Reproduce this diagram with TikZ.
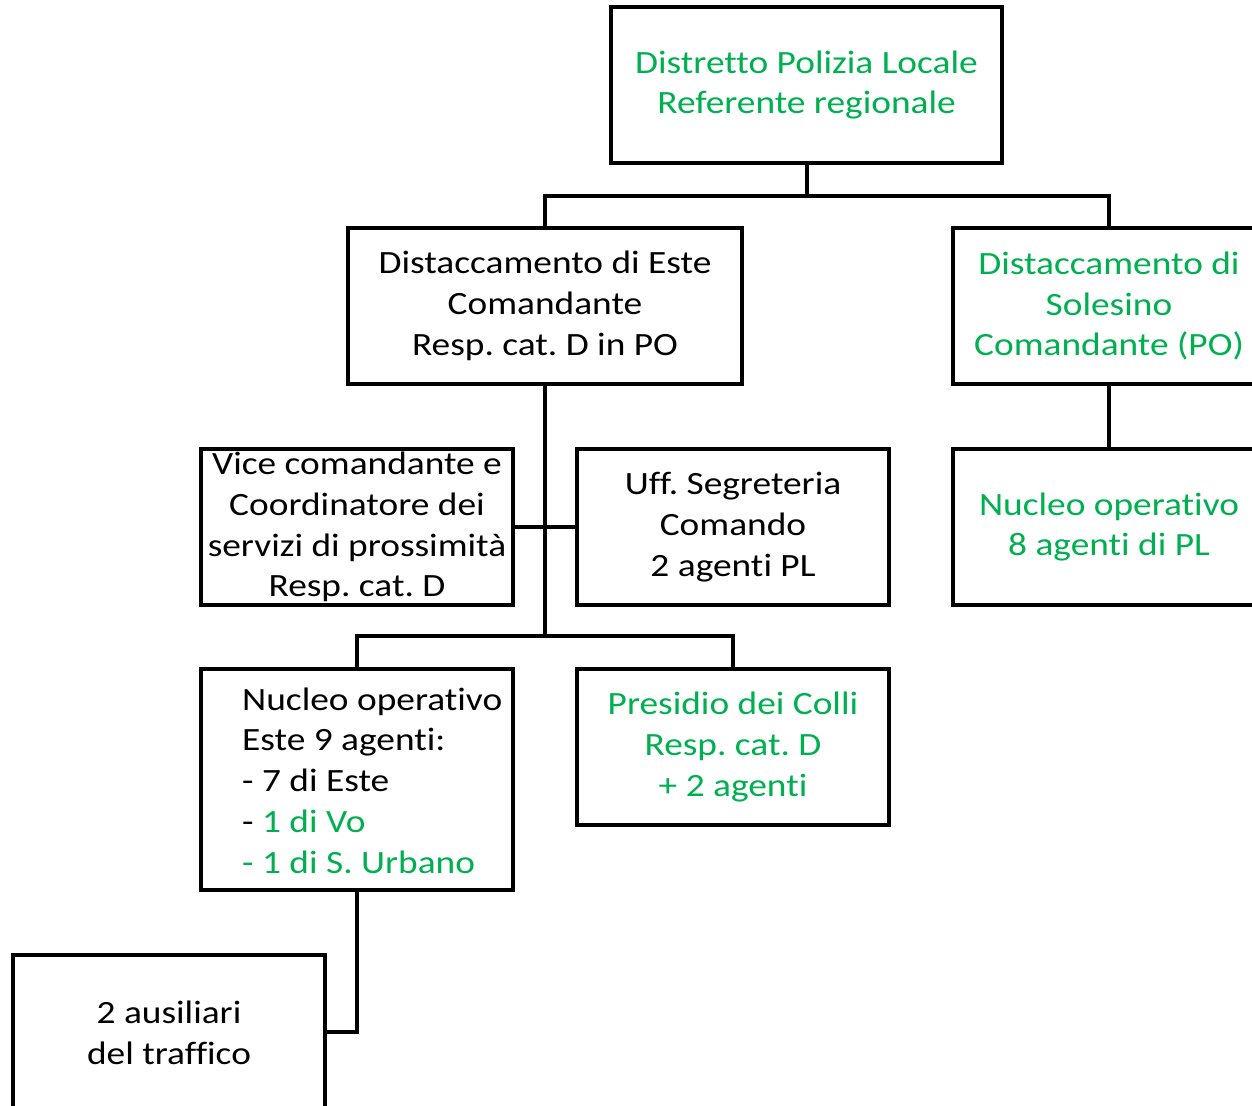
\documentclass[tikz,border=0pt]{standalone}
\usepackage{fontspec}
\setmainfont{Carlito}[FakeStretch=1.15,Ligatures=CommonOff]
\definecolor{grn}{HTML}{00B050}
\frenchspacing
\begin{document}
\begin{tikzpicture}[x=1pt,y=-1pt,
  box/.style={draw=black,line width=4pt,minimum width=312pt,minimum height=156pt,inner sep=0pt,align=center,font=\fontsize{32.5}{40.8}\selectfont},
  conn/.style={draw=black,line width=4pt}]
\useasboundingbox (0,0) rectangle (1252,1105);
\clip (0,0) rectangle (1252,1105);
\node[box,minimum width=391pt,text=grn] (top) at (806.5,85) {Distretto Polizia Locale\\Referente regionale};
\node[box,minimum width=394pt] (este) at (545,306) {Distaccamento di Este\\Comandante\\Resp. cat. D in PO};
\node[box,text=grn] (sol) at (1109,306) {Distaccamento di\\Solesino\\Comandante (PO)};
\node[box] (vice) at (357,527) {Vice comandante e\\Coordinatore dei\\servizi di prossimità\\Resp. cat. D};
\node[box] (uff) at (733,527) {Uff. Segreteria\\Comando\\2 agenti PL};
\node[box,text=grn] (nsol) at (1109,527) {Nucleo operativo\\8 agenti di PL};
\node[box,minimum height=221pt] (nest) at (357,779.5) {};
\node[anchor=west,inner sep=0pt,align=left,font=\fontsize{32.5}{40.8}\selectfont] (nesttxt) at (242,780.5) {Nucleo operativo\\Este 9 agenti:\\- 7 di Este\\- \textcolor{grn}{1 di Vo}\\\textcolor{grn}{- 1 di S. Urbano}};
\node[box,text=grn] (pres) at (733,747) {Presidio dei Colli\\Resp. cat. D\\+ 2 agenti};
\node[box] (aus) at (169,1033) {2 ausiliari\\del traffico};
\coordinate (j1) at (806.5,196);
\coordinate (j2) at (545,636);
\coordinate (j3) at (357,1032);
\draw[conn] (top.south) -- (j1);
\draw[conn] (j1) -| (este.north);
\draw[conn] (j1) -| (sol.north);
\draw[conn] (este.south) -- (j2);
\draw[conn] (vice.east) -- (uff.west);
\draw[conn] (j2) -| (nest.north);
\draw[conn] (j2) -| (pres.north);
\draw[conn] (sol.south) -- (nsol.north);
\draw[conn] (nest.south) -- (j3) -- (aus.east |- j3);
\end{tikzpicture}
\end{document}
